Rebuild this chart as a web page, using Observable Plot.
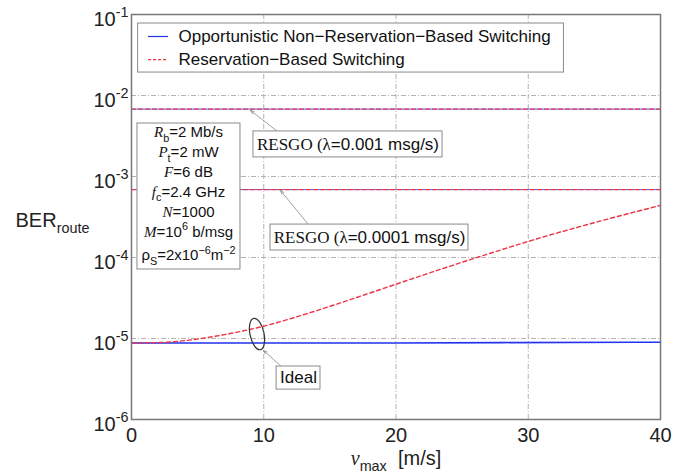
<!DOCTYPE html>
<html><head><meta charset="utf-8">
<script src="https://cdn.jsdelivr.net/npm/d3@7"></script>
<script src="https://cdn.jsdelivr.net/npm/@observablehq/plot@0.6"></script>
<style>body{margin:0;background:#fff} #chart svg{display:block}</style>
</head><body><div id="chart"></div>
<script>
// ---------- data ----------
const speed = [0,2,4,6,8,10,12,14,16,18,20,22,24,26,28,30,32,34,36,38,40];
const berReservation = [8.8e-6,8.9e-6,9.4e-6,1.045e-5,1.2e-5,1.42e-5,1.75e-5,2.21e-5,2.82e-5,3.63e-5,4.68e-5,6.03e-5,7.73e-5,9.86e-5,1.25e-4,1.58e-4,1.97e-4,2.43e-4,2.98e-4,3.63e-4,4.4e-4];
const speedOpp = [0, 20, 28, 38, 40];
const berOpportunistic = [8.8e-6, 8.8e-6, 8.9e-6, 9.0e-6, 9.0e-6];
const resgoSpeed = [0, 40];
const resgoBER001 = [6.8e-3, 6.8e-3];
const resgoBER0001 = [6.9e-4, 6.9e-4];
const xTicks = [0, 10, 20, 30, 40];
const yTicks = [1e-1, 1e-2, 1e-3, 1e-4, 1e-5, 1e-6];
const seriesNames = ["Opportunistic Non\u2212Reservation\u2212Based Switching", "Reservation\u2212Based Switching"];
const paramLines = ["*{R}_{b}=2 Mb/s", "*{P}_{t}=2 mW", "*{F}=6 dB", "*{f}_{c}=2.4 GHz", "*{N}=1000", "*{M}=10^{6} b/msg", "\u03c1_{S}=2x10^{\u22126}m^{\u22122}"];
const labelResgo1 = "~{RESGO (\u03bb}=0.001 msg/s)";
const labelResgo2 = "~{RESGO (\u03bb}=0.0001 msg/s)";
const labelIdeal = "Ideal";
const yTitle = "BER_{route}";
const xTitle = "*{v}_{max}\u00a0\u00a0[m/s]";

// ---------- layout (annotation placement, in data units) ----------
const SANS = "Liberation Sans, Arial, sans-serif";
const SERIF = "Liberation Serif, Times New Roman, serif";
const BLUE = "#2233ee", RED = "#ee3344", GRID = "#aaaaaa", BOX = "#8a8a8a";

const oppData = speedOpp.map((x, i) => ({x, y: berOpportunistic[i]}));
const resData = speed.map((x, i) => ({x, y: berReservation[i]}));
const r1 = resgoSpeed.map((x, i) => ({x, y: resgoBER001[i]}));
const r2 = resgoSpeed.map((x, i) => ({x, y: resgoBER0001[i]}));

const legendBox = [{x1: 0.5, x2: 32.7, y1: 7.74e-2, y2: 1.92e-2}];
const legendY = [5.35e-2, 2.78e-2];
const paramBox = [{x1: 0.45, x2: 8.24, y1: 4.51e-3, y2: 7.11e-5}];
const boxes = [
  {x1: 9.22, x2: 23.52, y1: 3.6e-3, y2: 1.72e-3},
  {x1: 10.51, x2: 25.48, y1: 2.55e-4, y2: 1.22e-4},
  {x1: 10.97, x2: 14.29, y1: 4.51e-6, y2: 2.34e-6}
];
const labels = [
  {x: 16.37, y: 2.48e-3, t: labelResgo1, f: SANS},
  {x: 18.0, y: 1.77e-4, t: labelResgo2, f: SANS},
  {x: 12.63, y: 3.3e-6, t: labelIdeal, f: SERIF}
];
const arrows = [
  {x1: 11.04, y1: 3.6e-3, x2: 9.0, y2: 6.53e-3},
  {x1: 13.38, y1: 2.55e-4, x2: 11.27, y2: 6.71e-4},
  {x1: 11.34, y1: 4.51e-6, x2: 9.98, y2: 7.11e-6}
];

function ellipseMark(index, scales) {
  const cx = scales.x(9.53), cy = scales.y(1.12e-5);
  const e = document.createElementNS("http://www.w3.org/2000/svg", "ellipse");
  e.setAttribute("cx", cx); e.setAttribute("cy", cy);
  e.setAttribute("rx", 7); e.setAttribute("ry", 16);
  e.setAttribute("fill", "none"); e.setAttribute("stroke", "#333"); e.setAttribute("stroke-width", 1.2);
  e.setAttribute("transform", `rotate(-12 ${cx} ${cy})`);
  return e;
}

const chart = Plot.plot({
  width: 691, height: 476,
  marginLeft: 131, marginRight: 31, marginTop: 14, marginBottom: 57,
  style: {fontFamily: SANS, fontSize: "20px", background: "white", color: "#222"},
  x: {domain: [0, 40], ticks: xTicks, tickSize: 0, tickPadding: 8, label: null},
  y: {type: "log", domain: [1e-6, 1e-1], axis: null},
  marks: [
    Plot.ruleX(xTicks.slice(1, -1), {stroke: GRID, strokeWidth: 0.9, strokeDasharray: "5,2,1,2"}),
    Plot.ruleY(yTicks.slice(1, -1), {stroke: GRID, strokeWidth: 0.9, strokeDasharray: "5,2,1,2"}),
    Plot.line(r1, {x: "x", y: "y", stroke: BLUE, strokeWidth: 0.8}),
    Plot.line(r1, {x: "x", y: "y", stroke: RED, strokeWidth: 1.2, strokeDasharray: "4,3"}),
    Plot.line(r2, {x: "x", y: "y", stroke: BLUE, strokeWidth: 0.8}),
    Plot.line(r2, {x: "x", y: "y", stroke: RED, strokeWidth: 1.2, strokeDasharray: "4,3"}),
    Plot.line(oppData, {x: "x", y: "y", stroke: BLUE, strokeWidth: 1.6}),
    Plot.line(resData, {x: "x", y: "y", stroke: RED, strokeWidth: 1.4, strokeDasharray: "4,3", curve: "monotone-x"}),
    // legend
    Plot.rect(legendBox, {x1: "x1", x2: "x2", y1: "y1", y2: "y2", fill: "white", stroke: BOX, strokeWidth: 1}),
    Plot.ruleY([legendY[0]], {x1: 1.29, x2: 2.8, stroke: BLUE, strokeWidth: 1.2}),
    Plot.ruleY([legendY[1]], {x1: 1.29, x2: 2.8, stroke: RED, strokeWidth: 1.2, strokeDasharray: "3,2"}),
    Plot.text(seriesNames, {x: 3.55, y: (d, i) => legendY[i], text: d => d, textAnchor: "start", fontSize: 17, fill: "#111"}),
    // parameter box
    Plot.rect(paramBox, {x1: "x1", x2: "x2", y1: "y1", y2: "y2", fill: "white", stroke: BOX, strokeWidth: 1}),
    Plot.text(paramLines, {x: 4.31, y: (d, i) => 10 ** (-2.457 - 0.245 * i - (i === 6 ? 0.05 : 0)), text: d => d, textAnchor: "middle", fontSize: 15, fill: "#111"}),
    // annotations
    Plot.arrow(arrows, {x1: "x1", y1: "y1", x2: "x2", y2: "y2", stroke: "#888", strokeWidth: 0.8, headLength: 7, headAngle: 40}),
    Plot.rect(boxes, {x1: "x1", x2: "x2", y1: "y1", y2: "y2", fill: "white", stroke: BOX, strokeWidth: 1}),
    Plot.text(labels, {x: "x", y: "y", text: "t", fontFamily: d => d.f, fontSize: 17, fill: "#111"}),
    ellipseMark,
    // y tick labels and titles
    Plot.text(yTicks, {y: d => d, frameAnchor: "left", text: d => `10^{${Math.round(Math.log10(d))}}`, textAnchor: "end", dx: -3, dy: 5, fontSize: 20, fill: "#222"}),
    Plot.text([yTitle], {frameAnchor: "left", text: d => d, textAnchor: "start", dx: -116, dy: 4, fontSize: 20, fill: "#222"}),
    Plot.text([xTitle], {frameAnchor: "bottom", text: d => d, textAnchor: "middle", dy: 45, fontSize: 20, fill: "#222"}),
    Plot.frame({stroke: "#777", strokeWidth: 1.5})
  ]
});
document.getElementById("chart").appendChild(chart);

// rich text: *{..} italic serif, ~{..} serif, _{..} subscript, ^{..} superscript
function richify(el) {
  const s = el.textContent;
  const re = /([*_^~])\{([^}]*)\}/g;
  if (!re.test(s)) return;
  re.lastIndex = 0;
  const fs = parseFloat(getComputedStyle(el).fontSize) || 16;
  el.textContent = "";
  let last = 0, shift = 0, m;
  const add = (txt, kind) => {
    if (!txt) return;
    const ts = document.createElementNS("http://www.w3.org/2000/svg", "tspan");
    let target = 0;
    if (kind === "_") { target = 0.3 * fs; ts.setAttribute("font-size", 0.72 * fs); ts.setAttribute("font-family", SANS); ts.setAttribute("font-style", "normal"); }
    if (kind === "^") { target = -0.45 * fs; ts.setAttribute("font-size", 0.72 * fs); ts.setAttribute("font-family", SANS); ts.setAttribute("font-style", "normal"); }
    if (kind === "*") { ts.setAttribute("font-family", SERIF); ts.setAttribute("font-style", "italic"); }
    if (kind === "~") ts.setAttribute("font-family", SERIF);
    if (target !== shift) { ts.setAttribute("dy", target - shift); shift = target; }
    ts.textContent = txt;
    el.appendChild(ts);
  };
  while ((m = re.exec(s))) { add(s.slice(last, m.index), ""); add(m[2], m[1]); last = re.lastIndex; }
  add(s.slice(last), "");
}
chart.querySelectorAll("text").forEach(richify);
</script>
</body></html>
